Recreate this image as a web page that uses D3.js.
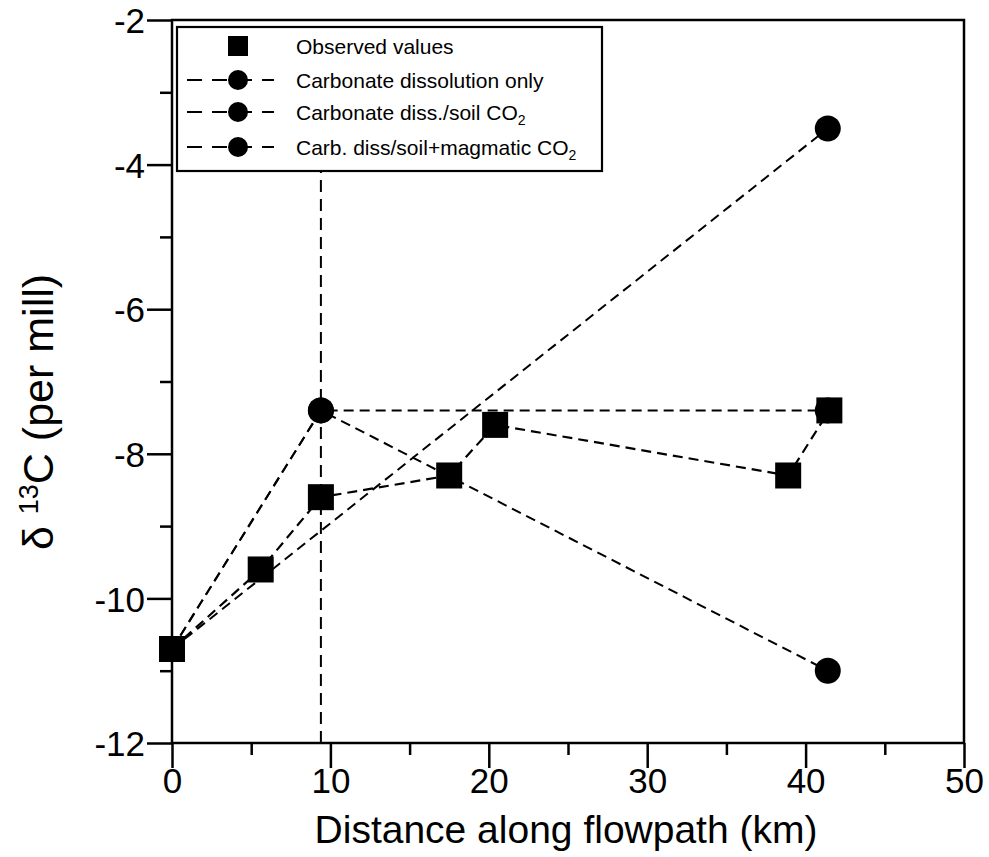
<!DOCTYPE html>
<html>
<head>
<meta charset="utf-8">
<script src="https://cdn.jsdelivr.net/npm/d3@7"></script>
<style>
  html, body { margin: 0; padding: 0; background: #fff; }
  svg { display: block; font-family: "Liberation Sans", Arial, Helvetica, sans-serif; }
</style>
</head>
<body>
<svg id="chart" width="989" height="857"></svg>
<script>
// Observed δ13C along the flowpath
const observedKm   = [0, 5.6, 9.4, 17.5, 20.4, 38.9, 41.5];
const observedD13C = [-10.7, -9.6, -8.6, -8.3, -7.6, -8.3, -7.4];

// Model runs
const dissolutionKm   = [0, 41.4];
const dissolutionD13C = [-10.7, -3.5];
const soilKm          = [0, 9.4, 41.4];
const soilD13C        = [-10.7, -7.4, -11.0];
const magmaticKm      = [0, 9.4, 41.4];
const magmaticD13C    = [-10.7, -7.4, -7.4];

// Vertical reference at the recharge boundary
const boundaryKm = 9.4;

// Axes
const xTicks = [0, 10, 20, 30, 40, 50];
const xMinorTicks = [5, 15, 25, 35, 45];
const yTicks = [-2, -4, -6, -8, -10, -12];
const yMinorTicks = [-3, -5, -7, -9, -11];

const legendLabels = [
  "Observed values",
  "Carbonate dissolution only",
  "Carbonate diss./soil CO",
  "Carb. diss/soil+magmatic CO"
];
const legendSubscripts = ["", "", "2", "2"];

const svg = d3.select("#chart");
const plotL = 172, plotR = 964, plotT = 20, plotB = 743;

const x = d3.scaleLinear().domain([0, 50]).range([plotL, plotR]);
const y = d3.scaleLinear().domain([-12, -2]).range([plotB, plotT]);

const lineGen = d3.line().x(d => x(d[0])).y(d => y(d[1]));
const zip = (a, b) => a.map((v, i) => [v, b[i]]);

const plotDash = "10,6";
const ink = "#000";

// Vertical boundary line
svg.append("line")
  .attr("x1", x(boundaryKm)).attr("x2", x(boundaryKm))
  .attr("y1", y(-12)).attr("y2", y(-2))
  .attr("stroke", ink).attr("stroke-width", 2)
  .attr("stroke-dasharray", "12,7");

// Model lines
const models = [
  zip(dissolutionKm, dissolutionD13C),
  zip(soilKm, soilD13C),
  zip(magmaticKm, magmaticD13C)
];
models.forEach(m => {
  svg.append("path").attr("d", lineGen(m))
    .attr("fill", "none").attr("stroke", ink)
    .attr("stroke-width", 2).attr("stroke-dasharray", plotDash);
});

// Observed line
const obs = zip(observedKm, observedD13C);
svg.append("path").attr("d", lineGen(obs))
  .attr("fill", "none").attr("stroke", ink)
  .attr("stroke-width", 2.2).attr("stroke-dasharray", plotDash);

// Model points
models.forEach(m => {
  svg.selectAll(null).data(m).enter().append("circle")
    .attr("cx", d => x(d[0])).attr("cy", d => y(d[1]))
    .attr("r", 13).attr("fill", ink);
});

// Observed squares
const sq = 26;
svg.selectAll(null).data(obs).enter().append("rect")
  .attr("x", d => x(d[0]) - sq / 2).attr("y", d => y(d[1]) - sq / 2)
  .attr("width", sq).attr("height", sq).attr("fill", ink);

// Axes (ticks outward)
const xAxis = d3.axisBottom(x).tickValues(xTicks).tickSize(25).tickFormat(d3.format("d"));
const yAxis = d3.axisLeft(y).tickValues(yTicks).tickSize(25).tickFormat(d3.format("d"));
const gx = svg.append("g").attr("transform", `translate(0,${plotB})`).call(xAxis);
const gy = svg.append("g").attr("transform", `translate(${plotL},0)`).call(yAxis);
svg.append("g").attr("transform", `translate(0,${plotB})`)
  .call(d3.axisBottom(x).tickValues(xMinorTicks).tickSize(12).tickFormat(""));
svg.append("g").attr("transform", `translate(${plotL},0)`)
  .call(d3.axisLeft(y).tickValues(yMinorTicks).tickSize(12).tickFormat(""));

svg.selectAll(".domain").remove();
svg.selectAll(".tick line").attr("stroke", ink).attr("stroke-width", 2.5);
gx.selectAll(".tick text").attr("font-size", 35).attr("fill", ink)
  .attr("y", 50).attr("dy", 0);
gy.selectAll(".tick text").attr("font-size", 35).attr("fill", ink)
  .attr("x", -27).attr("dy", "0.36em")
  .text(d => d3.format("d")(d).replace("\u2212", "-"));
gx.selectAll(".tick text").text(d => d3.format("d")(d));

// Frame
svg.append("rect").attr("x", plotL).attr("y", plotT)
  .attr("width", plotR - plotL).attr("height", plotB - plotT)
  .attr("fill", "none").attr("stroke", ink).attr("stroke-width", 2.5);

// Axis titles
svg.append("text").attr("x", (plotL + plotR) / 2 - 2).attr("y", 843)
  .attr("text-anchor", "middle").attr("font-size", 39).attr("fill", ink)
  .text("Distance along flowpath (km)");

const yt = svg.append("text")
  .attr("transform", `translate(53,412) rotate(-90)`)
  .attr("text-anchor", "middle").attr("font-size", 43).attr("fill", ink);
yt.append("tspan").text("\u03B4 ");
yt.append("tspan").attr("font-size", 27).attr("dy", -15).text("13");
yt.append("tspan").attr("dy", 15).text("C (per mill)");

// Legend
const lg = svg.append("g");
lg.append("rect").attr("x", 177).attr("y", 27).attr("width", 425).attr("height", 144)
  .attr("fill", "#fff").attr("stroke", ink).attr("stroke-width", 2.2);
const rowY = [46, 80, 112, 147];
const symX = 238;
legendLabels.forEach((lab, i) => {
  const cy = rowY[i];
  if (i === 0) {
    lg.append("rect").attr("x", symX - 10).attr("y", cy - 10)
      .attr("width", 20).attr("height", 20).attr("fill", ink);
  } else {
    lg.append("line").attr("x1", 187).attr("x2", 274).attr("y1", cy).attr("y2", cy)
      .attr("stroke", ink).attr("stroke-width", 2).attr("stroke-dasharray", "15,10");
    lg.append("circle").attr("cx", symX).attr("cy", cy).attr("r", 10).attr("fill", ink);
  }
  const t = lg.append("text").attr("x", 296).attr("y", cy).attr("dy", "0.36em")
    .attr("font-size", 21).attr("fill", ink).text(lab);
  if (legendSubscripts[i]) {
    t.append("tspan").attr("font-size", 14).attr("dy", 5).text(legendSubscripts[i]);
  }
});
</script>
</body>
</html>
